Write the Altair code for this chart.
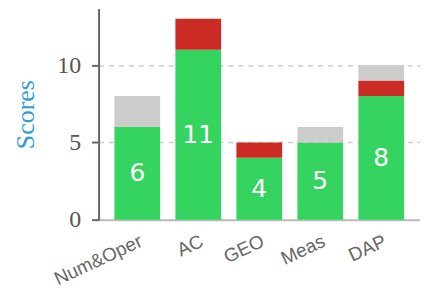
import altair as alt
import pandas as pd

categories = ["Num&Oper", "AC", "GEO", "Meas", "DAP"]
green = [6, 11, 4, 5, 8]
red = [0, 2, 1, 0, 1]
gray = [2, 0, 0, 1, 1]

rows = []
for c, g, r, s in zip(categories, green, red, gray):
    rows.append({"cat": c, "part": "a", "v": g})
    rows.append({"cat": c, "part": "b", "v": r})
    rows.append({"cat": c, "part": "c", "v": s})
df = pd.DataFrame(rows)
lab = pd.DataFrame({"cat": categories, "v": green, "mid": [g / 2 for g in green]})

xenc = alt.X("cat:N", sort=categories, title=None,
             scale=alt.Scale(paddingInner=0.25, paddingOuter=0.26),
             axis=alt.Axis(labelAngle=-25, labelAlign="right", labelBaseline="top",
                           labelFont="Liberation Sans", labelFontSize=19, labelColor="#666666",
                           labelPadding=12, ticks=False, domainColor="#bbbbbb", domainWidth=2))

bars = alt.Chart(df).mark_bar().encode(
    x=xenc,
    y=alt.Y("sum(v):Q", title="Scores", stack="zero",
            scale=alt.Scale(domain=[0, 13.65], nice=False),
            axis=alt.Axis(values=[0, 5, 10], titleFont="Liberation Serif", titleFontSize=26,
                          titleFontWeight="normal", titleColor="#2f9fd0", titlePadding=18,
                          labelFont="Liberation Serif", labelFontSize=24, labelColor="#555555",
                          labelPadding=11, tickSize=7, tickWidth=2, tickColor="#666666",
                          domainColor="#666666", domainWidth=2,
                          grid=True, gridDash=[5, 5], gridColor="#cccccc", gridWidth=1.5)),
    color=alt.Color("part:N", legend=None,
                    scale=alt.Scale(domain=["a", "b", "c"],
                                    range=["#35d35f", "#cc2a25", "#cccccc"])),
    order=alt.Order("part:N", sort="ascending"),
)

text = alt.Chart(lab).mark_text(color="white", font="DejaVu Sans", fontSize=25,
                                baseline="middle").encode(
    x=alt.X("cat:N", sort=categories),
    y=alt.Y("mid:Q"),
    text=alt.Text("v:Q"),
)

chart = alt.layer(bars, text).properties(
    width=323, height=212,
    padding={"left": 5, "top": 0, "right": 0, "bottom": 0},
).configure_view(stroke=None)

chart.save("out.html", embed_options={"renderer": "svg", "actions": False})
